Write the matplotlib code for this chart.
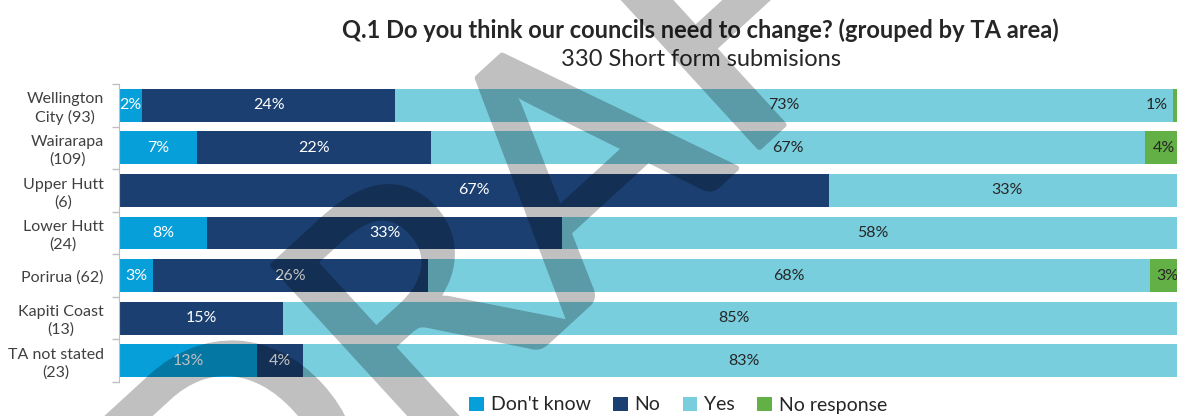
import matplotlib
matplotlib.use("Agg")
import matplotlib.pyplot as plt
from matplotlib.patches import Patch, PathPatch
from matplotlib.textpath import TextPath
from matplotlib.font_manager import FontProperties
from matplotlib import transforms
import numpy as np

plt.rcParams['font.family'] = ['Lato', 'DejaVu Sans']

# Survey results per TA area (percent of respondents)
areas = ["Wellington\nCity (93)", "Wairarapa\n(109)", "Upper Hutt\n(6)", "Lower Hutt\n(24)",
         "Porirua (62)", "Kapiti Coast\n(13)", "TA not stated\n(23)"]
dont_know = [2.2, 7.3, 0.0, 8.3, 3.2, 0.0, 13.0]
no = [23.7, 22.0, 66.7, 33.3, 25.8, 15.4, 4.3]
yes = [73.1, 67.0, 33.3, 58.4, 67.8, 84.6, 82.7]
no_response = [1.0, 3.7, 0.0, 0.0, 3.2, 0.0, 0.0]

series_names = ["Don't know", "No", "Yes", "No response"]
series_values = [dont_know, no, yes, no_response]
series_colors = ["#079FD9", "#1A3F70", "#79CEDE", "#63B046"]
label_colors = ["white", "white", "#262626", "#262626"]

W, H = 1177, 416
fig = plt.figure(figsize=(W / 100, H / 100), dpi=100)
ax = fig.add_axes([119 / W, 1 - 382 / H, (1184 - 119) / W, (382 - 84) / H])

y = np.arange(len(areas))
left = np.zeros(len(areas))
for vals, name, col, lcol in zip(series_values, series_names, series_colors, label_colors):
    vals = np.array(vals)
    ax.barh(y, vals, left=left, height=0.775, color=col, edgecolor="none", label=name, zorder=2)
    for yi, (l, v) in enumerate(zip(left, vals)):
        if v <= 0:
            continue
        txt = f"{v:.0f}%"
        if v < 2:
            ax.annotate(txt, (l, yi), xytext=(-4, 0), textcoords="offset points",
                        ha="right", va="center", color=lcol, fontsize=11.5, zorder=3)
        else:
            ax.text(l + v / 2, yi, txt, ha="center", va="center", color=lcol,
                    fontsize=11.5, zorder=3)
    left += vals

ax.set_xlim(0, 100)
ax.set_ylim(len(areas) - 0.5, -0.5)
ax.set_yticks(y)
ax.set_yticklabels(areas, fontsize=11.5, color="#404040", multialignment="center",
                   linespacing=1.3)
ax.set_yticks(np.arange(len(areas) + 1) - 0.5, minor=True)
ax.tick_params(axis="y", which="major", length=0, pad=11)
ax.tick_params(axis="y", which="minor", length=5, color="#BFBFBF", width=1)
ax.set_xticks([])
for s in ["top", "right", "bottom"]:
    ax.spines[s].set_visible(False)
ax.spines["left"].set_color("#BFBFBF")

fig.text(700 / W, 1 - 30 / H, "Q.1 Do you think our councils need to change? (grouped by TA area)",
         ha="center", va="center", fontsize=17, fontweight="bold", color="#262626")
fig.text(701 / W, 1 - 60 / H, "330 Short form submisions",
         ha="center", va="center", fontsize=17, color="#262626")

handles = [Patch(facecolor=c, edgecolor="none") for c in series_colors]
fig.legend(handles, series_names, loc="center", bbox_to_anchor=(678 / W, 1 - 405 / H),
           ncol=4, frameon=False, fontsize=14, handlelength=0.75, handleheight=0.75,
           handletextpad=0.35, columnspacing=1.15, labelcolor="#262626")

# DRAFT watermark: glyph outlines placed in pixel space, drawn as one translucent layer
fp = FontProperties(family="Lato")
cap_target = 241.0
rot = 42.5
base = TextPath((0, 0), "D", size=100, prop=fp)
scale = cap_target / base.vertices[:, 1].max()
em = 100 * scale
word = TextPath((0, 0), "DRAFT", size=em, prop=fp)
n_dr = len(TextPath((0, 0), "DR", size=em, prop=fp).vertices)
a_verts = TextPath((0, 0), "DRA", size=em, prop=fp).vertices[n_dr:]
a_center = np.array([(a_verts[:, 0].min() + a_verts[:, 0].max()) / 2, cap_target / 2])
place = (transforms.Affine2D().translate(-a_center[0], -a_center[1])
         .rotate_deg(rot).translate(571, H - 156))


def translucent(img, dpi):
    out = img.copy()
    out[..., 3] *= 0.25
    return out, 0, 0


mark = PathPatch(word, transform=place + transforms.IdentityTransform(),
                 facecolor="black", edgecolor="black", linewidth=4.5,
                 joinstyle="round", zorder=10)
mark.set_agg_filter(translucent)
fig.add_artist(mark)

fig.savefig("out.png", dpi=100)
